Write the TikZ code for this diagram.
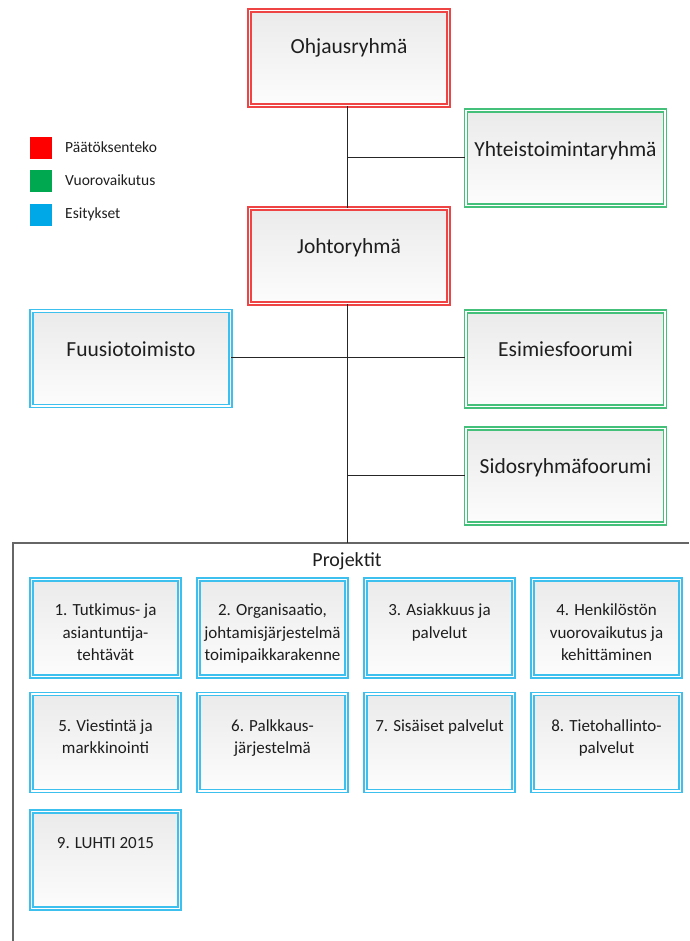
\documentclass[tikz,border=0pt]{standalone}
\usepackage{fontspec}
\setmainfont{Carlito}
\definecolor{decred}{HTML}{FF0000}
\definecolor{intgreen}{HTML}{00A94F}
\definecolor{presblue}{HTML}{00A8E8}
\definecolor{redframe}{HTML}{EE4444}
\definecolor{greenframe}{HTML}{44C07A}
\definecolor{blueframe}{HTML}{3EC0EE}
\definecolor{inktext}{HTML}{1E1E1E}
\tikzset{
  orgbox/.style={draw=#1, double=white, double distance=1.8pt, line width=1.2pt,
    top color=black!8, bottom color=black!1, rectangle, inner sep=0pt},
  bigbox/.style={orgbox=#1, minimum width=199pt, minimum height=95pt},
  projbox/.style={orgbox=blueframe, minimum width=148pt, minimum height=97pt},
  bigtext/.style={font=\fontsize{21.5}{25}\selectfont, text=inktext, anchor=north, inner sep=0pt},
  projtext/.style={font=\fontsize{17}{22.5}\selectfont, text=inktext, anchor=north,
    align=center, inner sep=0pt},
  legsq/.style={fill=#1, minimum size=22pt, inner sep=0pt},
  legtext/.style={font=\fontsize{15.5}{18}\selectfont, text=inktext, anchor=west, inner sep=0pt},
  link/.style={draw=black!85, line width=0.8pt}
}
\begin{document}
\begin{tikzpicture}[x=1pt, y=-1pt]
\useasboundingbox (0,0) rectangle (689,941);

% legend
\node[legsq=decred] (lr) at (41,148) {};
\node[legsq=intgreen] (lg) at (41,181) {};
\node[legsq=presblue] (lb) at (41,215) {};
\node[legtext] (lrt) at (65,147) {Päätöksenteko};
\node[legtext] (lgt) at (65,180) {Vuorovaikutus};
\node[legtext] (lbt) at (65,214) {Esitykset};

% project area frame (open to the right and bottom)
\coordinate (frameTR) at (689,543);
\coordinate (frameTL) at (13,543);
\coordinate (frameBL) at (13,941);
\draw[draw=black!60, line width=1.3pt] (frameBL) -- (frameTL) -- (frameTR);

% governance boxes
\node[bigbox=redframe] (ohj) at (349,58) {};
\node[bigbox=greenframe] (yht) at (565.5,158) {};
\node[bigbox=redframe] (joh) at (349,256) {};
\node[bigbox=blueframe] (fuu) at (131,358.5) {};
\node[bigbox=greenframe] (esi) at (565.5,359) {};
\node[bigbox=greenframe] (sid) at (565.5,476) {};

% connectors
\coordinate (spineEnd) at (347,543);
\coordinate (jYht) at (347,157);
\coordinate (jFuu) at (347,357);
\coordinate (jSid) at (347,475);
\draw[link] (ohj.south -| spineEnd) -- (joh.north -| spineEnd);
\draw[link] (joh.south -| spineEnd) -- (spineEnd);
\draw[link] (jYht) -- (jYht -| yht.west);
\draw[link] (fuu.east |- jFuu) -- (jFuu -| esi.west);
\draw[link] (jSid) -- (jSid -| sid.west);

\node[bigtext] (ohjt) at ([yshift=-28pt]ohj.north) {Ohjausryhmä};
\node[bigtext] (yhtt) at ([yshift=-31pt]yht.north) {Yhteistoimintaryhmä};
\node[bigtext] (joht) at ([yshift=-30pt]joh.north) {Johtoryhmä};
\node[bigtext] (fuut) at ([yshift=-31pt]fuu.north) {Fuusiotoimisto};
\node[bigtext] (esit) at ([yshift=-31pt]esi.north) {Esimiesfoorumi};
\node[bigtext] (sidt) at ([yshift=-30pt]sid.north) {Sidosryhmäfoorumi};

% projects
\node[font=\fontsize{20}{24}\selectfont, text=inktext, inner sep=0pt] (projt) at (347,561) {Projektit};

\node[projbox] (p1) at (105.5,628) {};
\node[projbox] (p2) at (272.5,628) {};
\node[projbox] (p3) at (439.5,628) {};
\node[projbox] (p4) at (606.5,628) {};
\node[projbox] (p5) at (105.5,742.5) {};
\node[projbox] (p6) at (272.5,742.5) {};
\node[projbox] (p7) at (439.5,742.5) {};
\node[projbox] (p8) at (606.5,742.5) {};
\node[projbox] (p9) at (105.5,860) {};

\node[projtext] (p1t) at ([yshift=-25pt]p1.north) {1. Tutkimus- ja\\asiantuntija-\\tehtävät};
\node[projtext] (p2t) at ([yshift=-25pt]p2.north) {2. Organisaatio,\\johtamisjärjestelmä\\toimipaikkarakenne};
\node[projtext] (p3t) at ([yshift=-25pt]p3.north) {3. Asiakkuus ja\\palvelut};
\node[projtext] (p4t) at ([yshift=-25pt]p4.north) {4. Henkilöstön\\vuorovaikutus ja\\kehittäminen};
\node[projtext] (p5t) at ([yshift=-26pt]p5.north) {5. Viestintä ja\\markkinointi};
\node[projtext] (p6t) at ([yshift=-26pt]p6.north) {6. Palkkaus-\\järjestelmä};
\node[projtext] (p7t) at ([yshift=-26pt]p7.north) {7. Sisäiset palvelut};
\node[projtext] (p8t) at ([yshift=-26pt]p8.north) {8. Tietohallinto-\\palvelut};
\node[projtext] (p9t) at ([yshift=-26pt]p9.north) {9. LUHTI 2015};
\end{tikzpicture}
\end{document}
